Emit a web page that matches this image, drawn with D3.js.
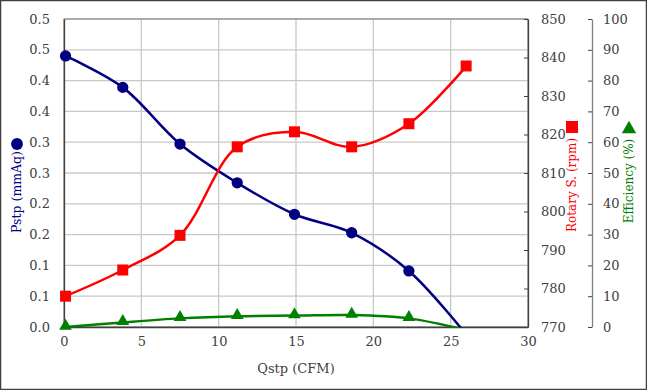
<!DOCTYPE html>
<html>
<head>
<meta charset="utf-8">
<script src="https://cdn.jsdelivr.net/npm/d3@7"></script>
<style>
  html,body{margin:0;padding:0;background:#fff;}
  #chart{width:647px;height:390px;}
</style>
</head>
<body>
<div id="chart"></div>
<script>
const qstp=[0.1,3.8,7.5,11.2,14.9,18.6,22.3,26.0];
const pstp=[0.44,0.389,0.297,0.234,0.183,0.153,0.091,-0.012];
const rpm=[778,784.8,793.8,816.8,820.7,816.8,822.8,837.8];
const eff=[0,1.5,2.8,3.5,3.7,3.9,2.8,-1];
const xTicks=[0,5,10,15,20,25,30];
const pTicks=[0,0.05,0.1,0.15,0.2,0.25,0.3,0.35,0.4,0.45,0.5];
const pLabels=["0.0","0.1","0.1","0.2","0.2","0.3","0.3","0.4","0.4","0.5","0.5"];
const rTicks=[770,780,790,800,810,820,830,840,850];
const eTicks=[0,10,20,30,40,50,60,70,80,90,100];

(function(){
  const W=647,H=390;
  const m={left:64,top:19,right:119,bottom:63};
  const iw=W-m.left-m.right, ih=H-m.top-m.bottom;
  const font="'DejaVu Serif'";
  const svg=d3.select("#chart").append("svg").attr("width",W).attr("height",H)
    .style("font-family",font);
  svg.append("rect").attr("x",0.5).attr("y",0.5).attr("width",W-1).attr("height",H-1)
    .attr("fill","#fff").attr("stroke","#404040").attr("stroke-width",1.5);
  const g=svg.append("g").attr("transform",`translate(${m.left},${m.top})`);

  const x=d3.scaleLinear().domain([0,30]).range([0,iw]);
  const yP=d3.scaleLinear().domain([0,0.5]).range([ih,0]);
  const yR=d3.scaleLinear().domain([770,850]).range([ih,0]);
  const yE=d3.scaleLinear().domain([0,100]).range([ih,0]);

  // gridlines
  g.selectAll(".hg").data(pTicks).join("line")
    .attr("x1",0).attr("x2",iw).attr("y1",d=>yP(d)).attr("y2",d=>yP(d))
    .attr("stroke","#c8c8c8").attr("stroke-width",1.3);
  g.selectAll(".vg").data(xTicks).join("line")
    .attr("y1",0).attr("y2",ih).attr("x1",d=>x(d)).attr("x2",d=>x(d))
    .attr("stroke","#c8c8c8").attr("stroke-width",1.3);
  g.append("rect").attr("width",iw).attr("height",ih).attr("fill","none")
    .attr("stroke","#808080").attr("stroke-width",1);

  const styleAx=(s,dom)=>{
    s.attr("font-family",null).style("font-family",font);
    s.select(".domain").attr("stroke",dom).attr("stroke-width",1.3);
    s.selectAll("line").attr("stroke","#404040");
    s.selectAll("text").attr("fill","#404040").attr("font-size",13).style("font-family",font);
  };
  g.append("g").call(d3.axisLeft(yP).tickValues(pTicks).tickSize(0).tickPadding(14)
      .tickFormat((d,i)=>pLabels[i]))
    .call(s=>styleAx(s,"#404040"));
  g.append("g").attr("transform",`translate(0,${ih})`)
    .call(d3.axisBottom(x).tickValues(xTicks).tickSize(0).tickPadding(10))
    .call(s=>styleAx(s,"#404040"));
  // rpm axis, ticks pointing into the plot
  g.append("g").attr("transform",`translate(${iw},0)`)
    .call(d3.axisRight(yR).tickValues(rTicks).tickSizeInner(-4).tickSizeOuter(0).tickPadding(13))
    .call(s=>styleAx(s,"#404040"));
  // efficiency axis, offset to the right
  g.append("g").attr("transform",`translate(${iw+64},0)`)
    .call(d3.axisRight(yE).tickValues(eTicks).tickSizeInner(-4).tickSizeOuter(0).tickPadding(11))
    .call(s=>styleAx(s,"#808080"));

  g.append("clipPath").attr("id","clip").append("rect").attr("width",iw).attr("height",ih+1);
  const plot=g.append("g").attr("clip-path","url(#clip)");
  const series=[
    {vals:pstp,y:yP,color:"#000080",shape:"circle"},
    {vals:rpm,y:yR,color:"#ff0000",shape:"square"},
    {vals:eff,y:yE,color:"#008000",shape:"triangle"}
  ];
  const sym={circle:d3.symbolCircle,square:d3.symbolSquare,triangle:d3.symbolTriangle};
  const size={circle:100,square:121,triangle:70};
  series.forEach(s=>{
    const pts=qstp.map((q,i)=>[x(q),s.y(s.vals[i])]);
    plot.append("path").attr("d",d3.line().curve(d3.curveCatmullRom.alpha(0.5))(pts))
      .attr("fill","none").attr("stroke",s.color).attr("stroke-width",2.5);
  });
  series.forEach(s=>{
    const pts=qstp.map((q,i)=>[x(q),s.y(s.vals[i])]).filter(p=>p[1]<=ih+0.5);
    g.selectAll(null).data(pts).join("path")
      .attr("transform",p=>`translate(${p[0]},${s.shape==="triangle"?p[1]-1:p[1]})`)
      .attr("d",d3.symbol().type(sym[s.shape]).size(size[s.shape]))
      .attr("fill",s.color);
  });

  // axis titles with marker keys
  svg.append("text").attr("x",296).attr("y",373).attr("text-anchor","middle")
    .attr("font-size",13).attr("fill","#404040").text("Qstp (CFM)");
  svg.append("path").attr("transform","translate(17,144)")
    .attr("d",d3.symbol().type(d3.symbolCircle).size(110)).attr("fill","#000080");
  svg.append("text").attr("transform","translate(21,192) rotate(-90)").attr("text-anchor","middle")
    .attr("font-size",12.5).attr("fill","#000080").text("Pstp (mmAq)");
  svg.append("path").attr("transform","translate(572,127)")
    .attr("d",d3.symbol().type(d3.symbolSquare).size(144)).attr("fill","#ff0000");
  svg.append("text").attr("transform","translate(576,185) rotate(-90)").attr("text-anchor","middle")
    .attr("font-size",12).attr("fill","#ff0000").text("Rotary S. (rpm)");
  svg.append("path").attr("transform","translate(629,129)")
    .attr("d",d3.symbol().type(d3.symbolTriangle).size(90)).attr("fill","#008000");
  svg.append("text").attr("transform","translate(633,181) rotate(-90)").attr("text-anchor","middle")
    .attr("font-size",12).attr("fill","#008000").text("Efficiency (%)");
})();
</script>
</body>
</html>
